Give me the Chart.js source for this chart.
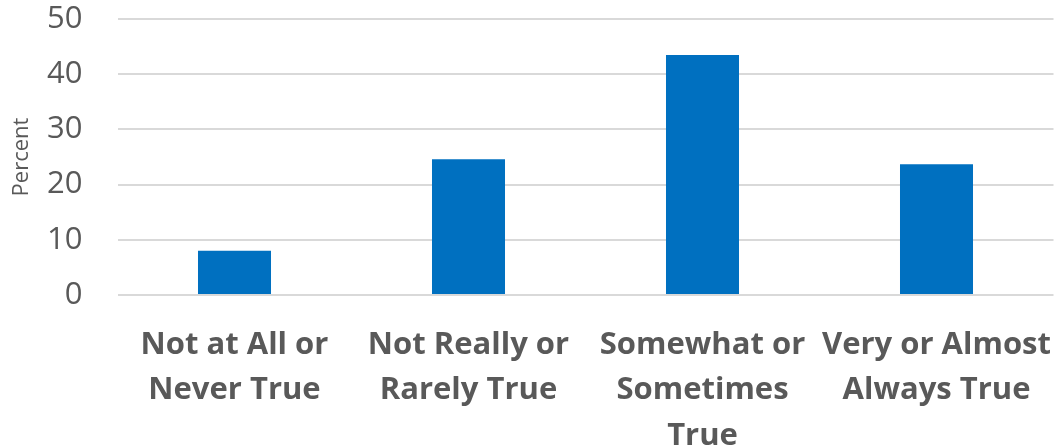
<!DOCTYPE html>
<html>
<head>
<meta charset="utf-8">
<script src="https://cdn.jsdelivr.net/npm/chart.js@4"></script>
<style>
  body { margin: 0; background: #fff; }
  #wrap { width: 1058px; height: 447px; }
</style>
</head>
<body>
<div id="wrap"><canvas id="myChart"></canvas></div>
<script>
// response categories (each entry is a wrapped label)
const categories = [
  ["Not at All or", "Never True"],
  ["Not Really or", "Rarely True"],
  ["Somewhat or", "Sometimes", "True"],
  ["Very or Almost", "Always True"]
];
const percentValues = [8.0, 24.6, 43.5, 23.7];
const yTicks = [0, 10, 20, 30, 40, 50];

const textGrey = '#595959';
const gridGrey = '#d9d9d9';

const initChart = function () {
  var ctx = document.getElementById('myChart').getContext('2d');
  var chart = new Chart(ctx, {
    type: 'bar',
    data: {
      labels: categories,
      datasets: [{
        label: 'Percent',
        data: percentValues,
        backgroundColor: '#0070C0',
        borderWidth: 0,
        barPercentage: 0.312,
        categoryPercentage: 1.0
      }]
    },
    options: {
      responsive: true,
      maintainAspectRatio: false,
      animation: false,
      layout: { padding: { top: 19, right: 4.5, left: 0, bottom: 0 } },
      plugins: {
        legend: { display: false },
        tooltip: { enabled: false }
      },
      scales: {
        x: {
          grid: { display: false },
          border: { display: false },
          ticks: {
            color: textGrey,
            maxRotation: 0,
            autoSkip: false,
            padding: 19,
            font: { family: 'Open Sans', size: 31, weight: 'bold', lineHeight: 1.47 }
          },
          afterFit: function (scale) {
            scale.height = 152;
            // wide edge labels may overhang, keep the plot full width
            scale.paddingLeft = 0;
            scale.paddingRight = 0;
          }
        },
        y: {
          min: 0,
          max: 50,
          afterBuildTicks: function (scale) {
            scale.ticks = yTicks.map(v => ({ value: v }));
          },
          grid: { color: gridGrey, lineWidth: 2, drawTicks: false },
          border: { display: false },
          ticks: {
            color: textGrey,
            padding: 35,
            font: { family: 'Open Sans', size: 31 }
          },
          title: {
            display: true,
            text: 'Percent',
            color: textGrey,
            padding: { top: 9, bottom: 0 },
            font: { family: 'Open Sans', size: 22 }
          },
          afterFit: function (scale) {
            scale.width = 117.5;
            scale.paddingTop = 0;
            scale.paddingBottom = 0;
          }
        }
      }
    }
  });
};

initChart();
</script>
</body>
</html>
